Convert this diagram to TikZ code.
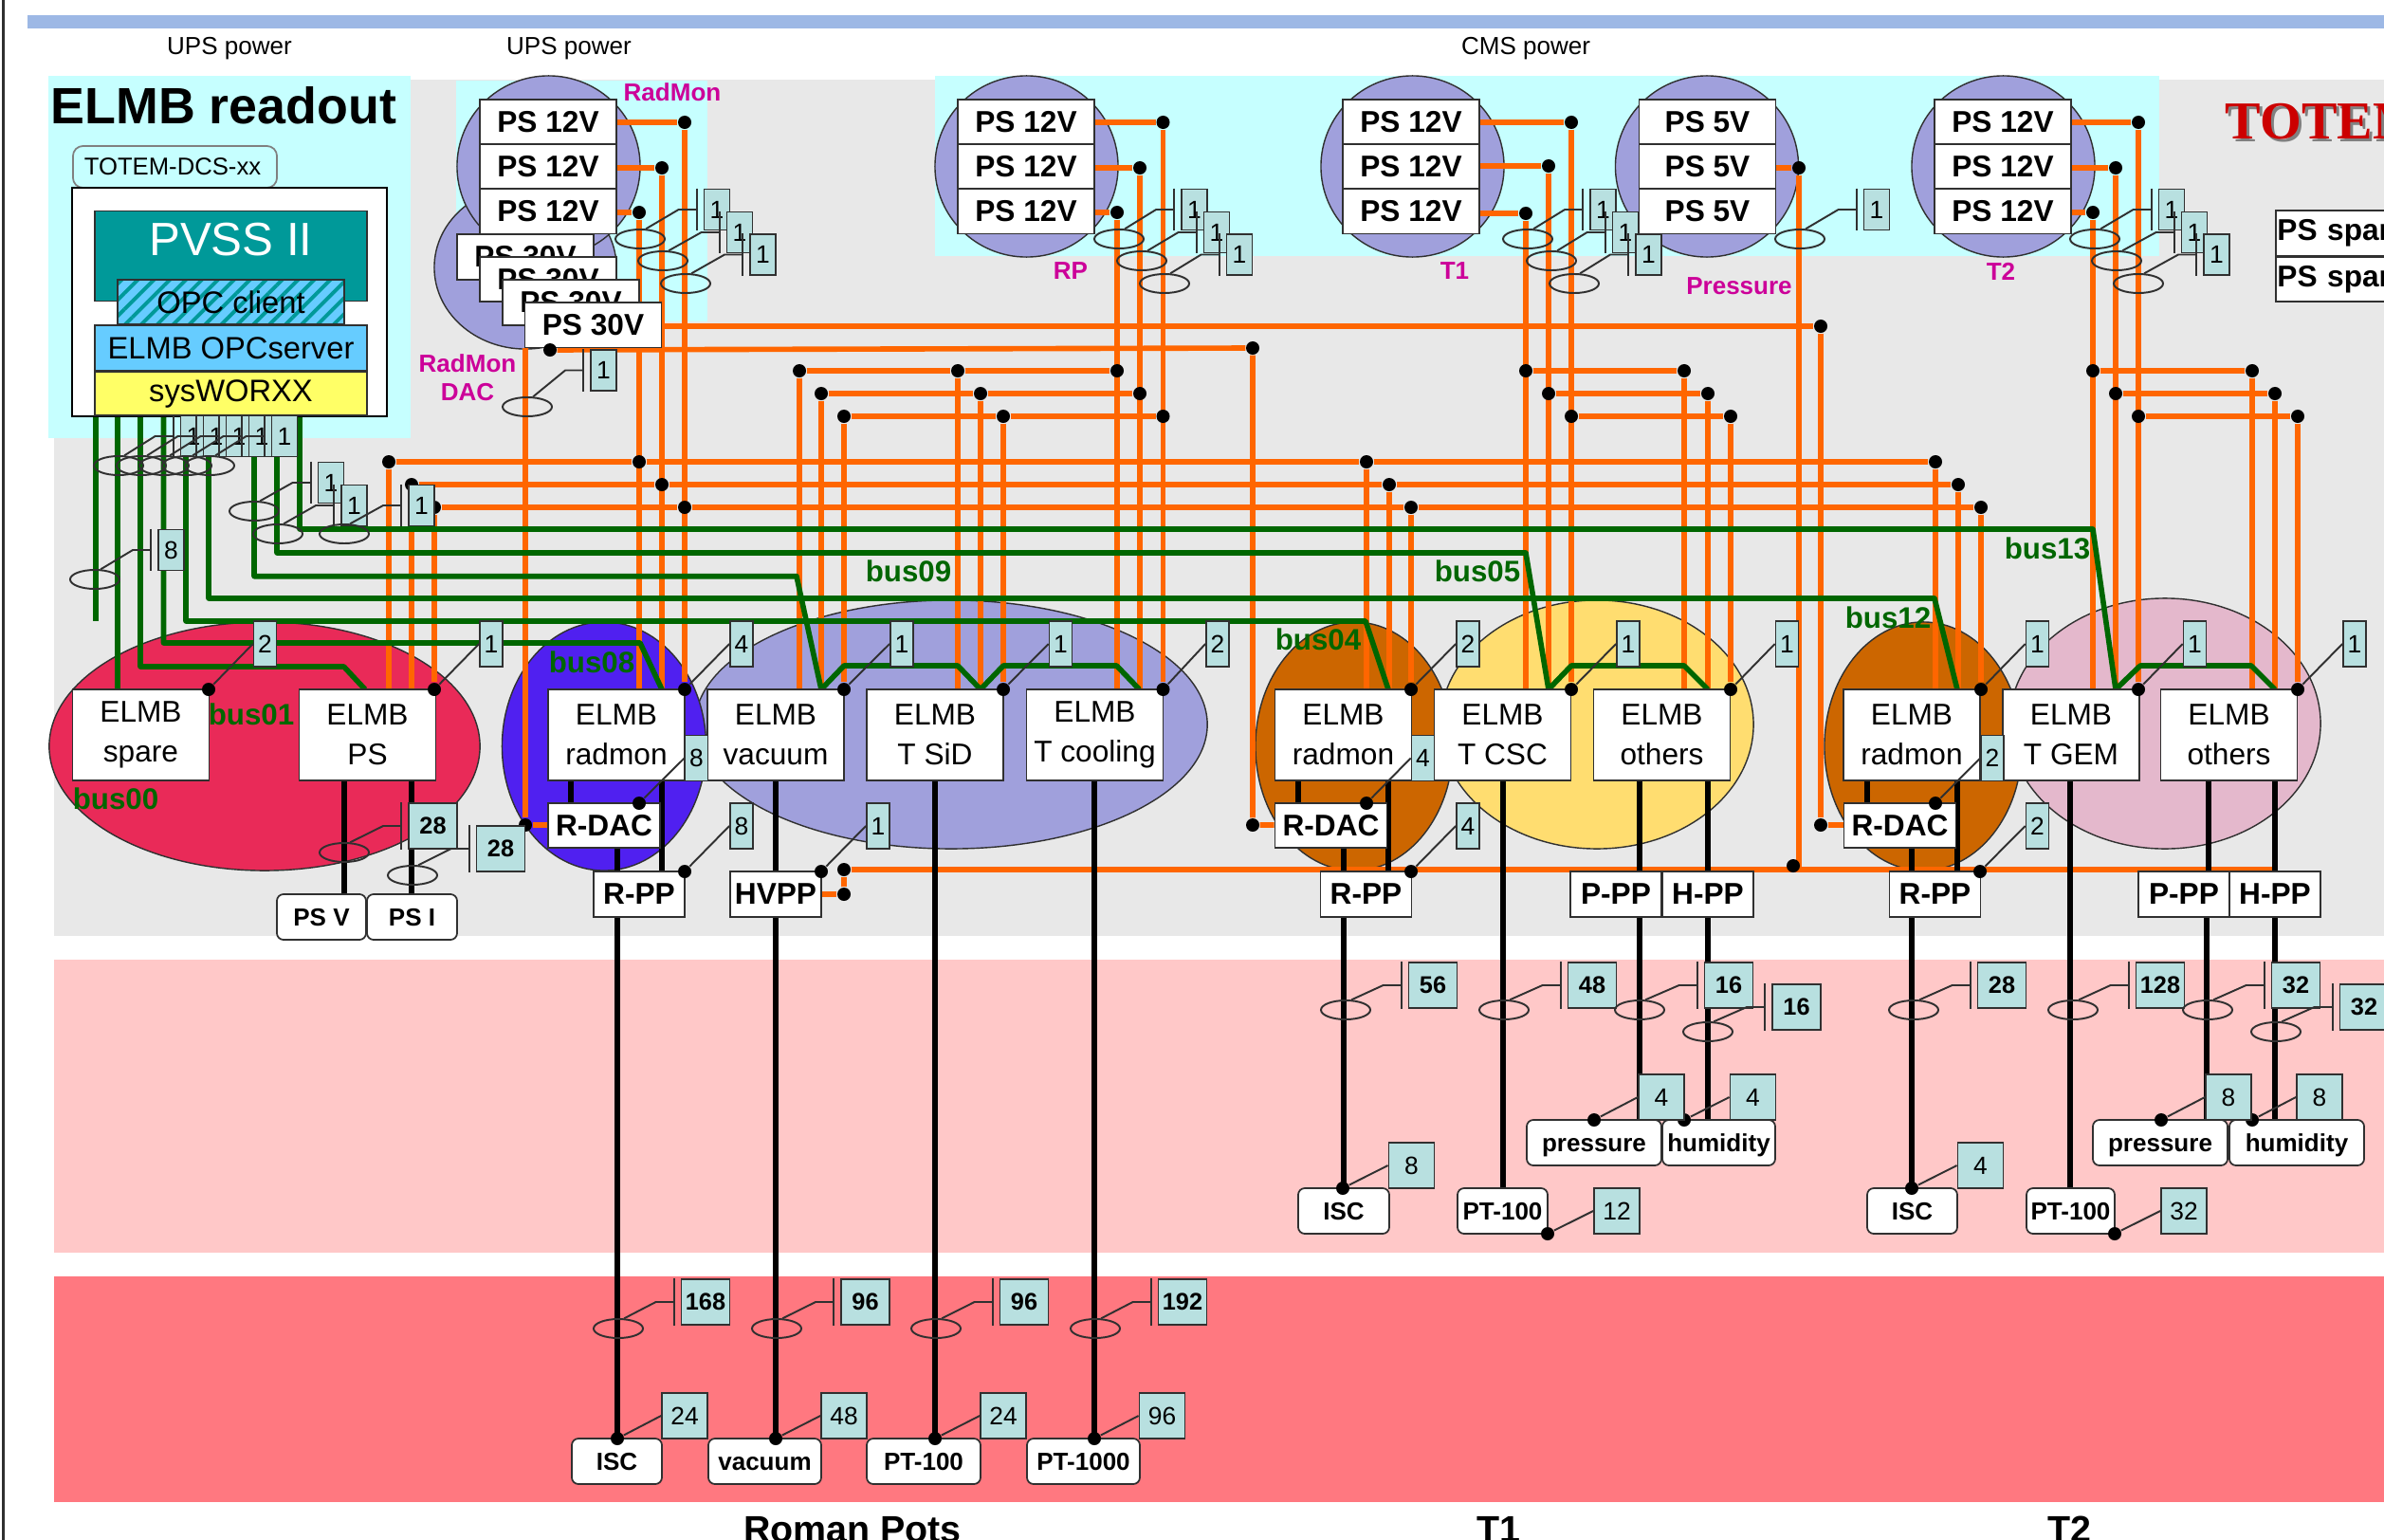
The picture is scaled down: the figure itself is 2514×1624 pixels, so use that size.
\documentclass[tikz,border=0pt]{standalone}
\usepackage{fontspec}
\usepackage{xcolor}
\setmainfont{Liberation Sans}
\newfontfamily\totemfont{Liberation Serif}
\usetikzlibrary{shapes.geometric,patterns.meta}

\definecolor{barblue}{HTML}{9DB8E5}
\definecolor{areagray}{HTML}{E8E8E8}
\definecolor{areapink}{HTML}{FFC8C8}
\definecolor{areared}{HTML}{FF7880}
\definecolor{areacyan}{HTML}{C6FFFF}
\definecolor{ovallilac}{HTML}{A0A0DC}
\definecolor{ovalred}{HTML}{E92A58}
\definecolor{ovalblue}{HTML}{5020F0}
\definecolor{ovalbrown}{HTML}{CC6600}
\definecolor{ovalyellow}{HTML}{FFDD70}
\definecolor{ovalpink}{HTML}{E4B8CC}
\definecolor{pvssteal}{HTML}{009999}
\definecolor{opcblue}{HTML}{66CCFF}
\definecolor{sysyellow}{HTML}{FFFF66}
\definecolor{tagcyan}{HTML}{B8E0E0}
\definecolor{pwrorange}{HTML}{FF6600}
\definecolor{busgreen}{HTML}{006600}
\definecolor{magtext}{HTML}{CC0099}
\definecolor{edgegray}{HTML}{303030}

\pgfdeclarelayer{areas}
\pgfdeclarelayer{wires}
\pgfsetlayers{areas,wires,main}

\tikzset{
  basebox/.style={draw=edgegray,line width=.5pt,fill=white,inner sep=0pt,align=center},
  elmbbox/.style={basebox,minimum width=1.44cm,minimum height=.96cm,font=\fontsize{9}{11.9}\selectfont},
  psbox/.style={basebox,minimum width=1.44cm,minimum height=.475cm,font=\fontsize{9}{11}\selectfont\bfseries},
  ppbox/.style={basebox,minimum width=.96cm,minimum height=.48cm,font=\fontsize{9}{11}\selectfont\bfseries},
  dacbox/.style={basebox,minimum width=1.18cm,minimum height=.47cm,font=\fontsize{9}{11}\selectfont\bfseries},
  tagbox/.style={basebox,rounded corners=2pt,minimum height=.48cm,text height=5.3pt,text depth=0pt,font=\fontsize{7.4}{9}\selectfont\bfseries},
  cnttop/.style={draw=edgegray,line width=.5pt,fill=tagcyan,inner sep=0pt,minimum width=.27cm,minimum height=.43cm,font=\fontsize{7.5}{9}\selectfont},
  cntslim/.style={cnttop,minimum width=.24cm,minimum height=.48cm},
  cntwide/.style={cnttop,minimum width=.48cm,minimum height=.48cm},
  cntbold/.style={cnttop,minimum width=.51cm,minimum height=.48cm,font=\fontsize{7.2}{9}\selectfont\bfseries},
  groupoval/.style={ellipse,draw=edgegray,line width=.4pt,inner sep=0pt},
  busring/.style={ellipse,draw=edgegray,line width=.55pt,inner sep=0pt,minimum width=.52cm,minimum height=.2cm},
  jdot/.style={circle,fill=black,inner sep=0pt,minimum size=.14cm},
  pwrline/.style={draw=pwrorange,line width=1.6pt},
  busline/.style={draw=busgreen,line width=1.6pt,line join=round},
  sigline/.style={draw=black,line width=1.7pt},
  leaderline/.style={draw=edgegray,line width=.55pt},
  maglabel/.style={inner sep=0pt,text=magtext,font=\fontsize{7.4}{9}\selectfont\bfseries},
  buslabel/.style={inner sep=0pt,text=busgreen,font=\fontsize{8.9}{10}\selectfont\bfseries},
  headlabel/.style={inner sep=0pt,font=\fontsize{7.4}{9}\selectfont},
  sitelabel/.style={inner sep=0pt,font=\fontsize{11.2}{13}\selectfont\bfseries}
}

\newcommand{\busnote}[5]{%
  \node[busring] (#1r) at (#2) {};
  \node[#4] (#1) at (#3) {#5};
  \path (#1.west) ++(-7,0) coordinate (#1t);
  \path (#1t) ++(-19,0) coordinate (#1e);
  \draw[leaderline] (#1t |- #1.north) -- (#1t |- #1.south);
  \draw[leaderline] (#1r.60) -- (#1e) -- (#1t);
}
\newcommand{\tagnote}[5]{%
  \node[#4] (#1) at (#3) {#5};
  \draw[leaderline] (#2) -- (#1.west);
}
\newcommand{\vlink}[3]{\draw[sigline] (#3,0 |- #1.south) -- (#3,0 |- #2.north);}

\begin{document}
\begin{tikzpicture}[x=.01cm,y=-.01cm]
\path[use as bounding box,clip] (0,0) rectangle (2514,1624);

\begin{pgfonlayer}{areas}
  \fill[white] (0,0) rectangle (2514,1624);
  \fill[edgegray] (2,0) rectangle (5,1624);
  \fill[barblue] (29,16) rectangle (2514,30);
  \fill[areagray] (57,84) rectangle (2514,987);
  \fill[areapink] (57,1012) rectangle (2514,1321);
  \fill[areared] (57,1346) rectangle (2514,1584);
  \fill[areacyan] (51,80) rectangle (433,462);
  \fill[areacyan] (481,85) rectangle (746,339);
  \fill[areacyan] (986,80) rectangle (2277,270);
  \node[groupoval,fill=ovallilac,minimum width=1.92cm,minimum height=1.72cm] (ovalrd) at (554,282) {};
  \node[groupoval,fill=ovallilac,minimum width=1.93cm,minimum height=1.91cm] (ovalrm) at (578.5,175.5) {};
  \node[groupoval,fill=ovallilac,minimum width=1.93cm,minimum height=1.91cm] (ovalrp) at (1082.5,175.5) {};
  \node[groupoval,fill=ovallilac,minimum width=1.93cm,minimum height=1.91cm] (ovalta) at (1489.5,175.5) {};
  \node[groupoval,fill=ovallilac,minimum width=1.93cm,minimum height=1.91cm] (ovalpr) at (1800,175.5) {};
  \node[groupoval,fill=ovallilac,minimum width=1.93cm,minimum height=1.91cm] (ovaltb) at (2112.5,175.5) {};
  \node[groupoval,fill=ovalred,minimum width=4.54cm,minimum height=2.62cm] (ovalps) at (279,787) {};
  \node[groupoval,fill=ovallilac,minimum width=5.4cm,minimum height=2.62cm] (ovalrpgroup) at (1003,764) {};
  \node[groupoval,fill=ovalyellow,minimum width=3.3cm,minimum height=2.62cm] (ovalt1group) at (1684,764) {};
  \node[groupoval,fill=ovalpink,minimum width=3.28cm,minimum height=2.64cm] (ovalt2group) at (2283,763) {};
  \node[groupoval,fill=ovalblue,minimum width=2.15cm,minimum height=2.62cm] (ovalrada) at (637,787) {};
  \node[groupoval,fill=ovalbrown,minimum width=2.08cm,minimum height=2.62cm] (ovalradb) at (1428,787) {};
  \node[groupoval,fill=ovalbrown,minimum width=2.08cm,minimum height=2.62cm] (ovalradc) at (2028,787) {};
\end{pgfonlayer}

\node[headlabel] (upsa) at (242,51) {UPS power};
\node[headlabel] (upsb) at (600,51) {UPS power};
\node[headlabel] (cmspwr) at (1609,51) {CMS power};
\node[inner sep=0pt,font=\fontsize{15.3}{18}\selectfont\bfseries] (elmbtitle) at (236,111) {ELMB readout};

\node[draw=gray,rounded corners=3pt,line width=.5pt,inner sep=0pt,minimum width=2.15cm,minimum height=.44cm,font=\fontsize{7.3}{9}\selectfont] (dcsname) at (184.5,176) {\hspace{-.05cm}TOTEM-DCS-xx};
\node[draw=black,line width=.5pt,fill=white,inner sep=0pt,minimum width=3.32cm,minimum height=2.41cm] (dcspc) at (242,318.5) {};
\node[draw=edgegray,fill=pvssteal,text=white,inner sep=0pt,minimum width=2.87cm,minimum height=.945cm,text depth=.36cm,font=\fontsize{14}{16}\selectfont] (pvss) at (243.5,270) {PVSS II};
\node[draw=edgegray,inner sep=0pt,minimum width=2.39cm,minimum height=.47cm,font=\fontsize{9.3}{11}\selectfont,preaction={fill=opcblue},pattern={Lines[angle=45,distance=3.4pt,line width=1.1pt]},pattern color=pvssteal] (opcclient) at (243.5,318.5) {};
\node[inner sep=0pt,font=\fontsize{9.3}{11}\selectfont] (opctext) at (243.5,318.5) {OPC client};
\node[draw=edgegray,fill=opcblue,inner sep=0pt,minimum width=2.87cm,minimum height=.48cm,font=\fontsize{9.3}{11}\selectfont] (opcserver) at (243.5,367) {ELMB OPCserver};
\node[draw=edgegray,fill=sysyellow,inner sep=0pt,minimum width=2.87cm,minimum height=.46cm,font=\fontsize{9.3}{11}\selectfont] (sysworxx) at (243.5,415) {sysWORXX};

\node[psbox] (rma) at (578,128.75) {PS 12V};
\node[psbox] (rmb) at (578,175.75) {PS 12V};
\node[psbox] (rmc) at (578,222.75) {PS 12V};
\node[psbox] (rda) at (554,271) {PS 30V};
\node[psbox] (rdb) at (578,294.5) {PS 30V};
\node[psbox] (rdc) at (602,319) {PS 30V};
\node[psbox] (rdd) at (625.5,342.75) {PS 30V};
\node[psbox] (rpa) at (1082,128.75) {PS 12V};
\node[psbox] (rpb) at (1082,175.75) {PS 12V};
\node[psbox] (rpc) at (1082,222.75) {PS 12V};
\node[psbox] (taa) at (1488,128.75) {PS 12V};
\node[psbox] (tab) at (1488,175.75) {PS 12V};
\node[psbox] (tac) at (1488,222.75) {PS 12V};
\node[psbox] (pra) at (1800.5,128.75) {PS 5V};
\node[psbox] (prb) at (1800.5,175.75) {PS 5V};
\node[psbox] (prc) at (1800.5,222.75) {PS 5V};
\node[psbox] (tba) at (2112,128.75) {PS 12V};
\node[psbox] (tbb) at (2112,175.75) {PS 12V};
\node[psbox] (tbc) at (2112,222.75) {PS 12V};
\node[psbox,anchor=west,align=left,text width=1.41cm] (sparea) at (2399,246) {PS spare};
\node[psbox,anchor=west,align=left,text width=1.41cm] (spareb) at (2399,294.5) {PS spare};

\node[maglabel] (labrm) at (709,97) {RadMon};
\node[maglabel] (labrd) at (493,383) {RadMon};
\node[maglabel] (labdac) at (493,414) {DAC};
\node[maglabel] (labrp) at (1129,286) {RP};
\node[maglabel] (labta) at (1534,286) {T1};
\node[maglabel] (labpr) at (1834,302) {Pressure};
\node[maglabel] (labtb) at (2110,286) {T2};
\node[inner sep=0pt,anchor=west,text=gray,font=\totemfont\fontsize{16}{20}\selectfont\bfseries] (totemshadow) at (2349,131) {TOTEM};
\node[inner sep=0pt,anchor=west,text=red!80!black,font=\totemfont\fontsize{16}{20}\selectfont\bfseries] (totemname) at (2346,128) {TOTEM};

\node[elmbbox] (elmbspare) at (148.5,775) {ELMB\\spare};
\node[elmbbox] (elmbps) at (387.5,775) {ELMB\\PS};
\node[elmbbox] (radmona) at (650,775) {ELMB\\radmon};
\node[elmbbox] (vacuum) at (818,775) {ELMB\\vacuum};
\node[elmbbox] (tsid) at (986,775) {ELMB\\T SiD};
\node[elmbbox] (tcooling) at (1154.5,775) {ELMB\\T cooling};
\node[elmbbox] (radmonb) at (1416.5,775) {ELMB\\radmon};
\node[elmbbox] (tcsc) at (1584.5,775) {ELMB\\T CSC};
\node[elmbbox] (othersa) at (1752.5,775) {ELMB\\others};
\node[elmbbox] (radmonc) at (2016,775) {ELMB\\radmon};
\node[elmbbox] (tgem) at (2184,775) {ELMB\\T GEM};
\node[elmbbox] (othersb) at (2350.5,775) {ELMB\\others};

\node[dacbox] (rdaca) at (637,870.5) {R-DAC};
\node[dacbox] (rdacb) at (1403.5,870.5) {R-DAC};
\node[dacbox] (rdacc) at (2003.5,870.5) {R-DAC};
\node[ppbox] (rppa) at (674,943) {R-PP};
\node[ppbox] (hvpp) at (818,943) {HVPP};
\node[ppbox] (rppb) at (1440.5,943) {R-PP};
\node[ppbox] (ppta) at (1704,943) {P-PP};
\node[ppbox] (hpta) at (1801,943) {H-PP};
\node[ppbox] (rppc) at (2040.5,943) {R-PP};
\node[ppbox] (pptb) at (2303,943) {P-PP};
\node[ppbox] (hptb) at (2399,943) {H-PP};

\node[tagbox,minimum width=.94cm] (psv) at (339,967) {PS V};
\node[tagbox,minimum width=.95cm] (psi) at (434.5,967) {PS I};
\node[tagbox,minimum width=.95cm] (iscrp) at (650.5,1541) {ISC};
\node[tagbox,minimum width=1.19cm] (vacrp) at (806.5,1541) {vacuum};
\node[tagbox,minimum width=1.2cm] (ptrp) at (974,1541) {PT-100};
\node[tagbox,minimum width=1.19cm] (ptkrp) at (1142.5,1541) {PT-1000};
\node[tagbox,minimum width=.96cm] (iscta) at (1417,1277) {ISC};
\node[tagbox,minimum width=.95cm] (ptta) at (1584.5,1277) {PT-100};
\node[tagbox,minimum width=1.42cm] (presta) at (1681,1205) {pressure};
\node[tagbox,minimum width=1.19cm] (humta) at (1812.5,1205) {humidity};
\node[tagbox,minimum width=.95cm] (isctb) at (2016.5,1277) {ISC};
\node[tagbox,minimum width=.93cm] (pttb) at (2183.5,1277) {PT-100};
\node[tagbox,minimum width=1.42cm] (prestb) at (2278,1205) {pressure};
\node[tagbox,minimum width=1.42cm] (humtb) at (2422,1205) {humidity};

\node[jdot] (rmdota) at (722,129) {};
\node[jdot] (rmdotb) at (698,177) {};
\node[jdot] (rmdotc) at (674,224) {};
\node[jdot] (rpdota) at (1226.5,129) {};
\node[jdot] (rpdotb) at (1202,177) {};
\node[jdot] (rpdotc) at (1178,224) {};
\node[jdot] (tadota) at (1657,129) {};
\node[jdot] (tadotb) at (1633,175) {};
\node[jdot] (tadotc) at (1609,225) {};
\node[jdot] (prdot) at (1897,177) {};
\node[jdot] (tbdota) at (2255,129) {};
\node[jdot] (tbdotb) at (2231,177) {};
\node[jdot] (tbdotc) at (2207,224) {};
\node[jdot] (ubusa) at (410,487) {};
\node[jdot] (ubusb) at (434,511) {};
\node[jdot] (ubusc) at (458,535) {};
\node[jdot] (ubusd) at (674,487) {};
\node[jdot] (ubuse) at (698,511) {};
\node[jdot] (ubusf) at (722,535) {};
\node[jdot] (ubusg) at (1441,487) {};
\node[jdot] (ubush) at (1465,511) {};
\node[jdot] (ubusi) at (1488,535) {};
\node[jdot] (ubusj) at (2041,487) {};
\node[jdot] (ubusk) at (2065,511) {};
\node[jdot] (ubusl) at (2089,535) {};
\node[jdot] (vbusa) at (843,391) {};
\node[jdot] (vbusb) at (866,415) {};
\node[jdot] (vbusc) at (890,439) {};
\node[jdot] (vbusd) at (1010,391) {};
\node[jdot] (vbuse) at (1034,415) {};
\node[jdot] (vbusf) at (1058,439) {};
\node[jdot] (vbusg) at (1178,391) {};
\node[jdot] (vbush) at (1202,415) {};
\node[jdot] (vbusi) at (1226.5,439) {};
\node[jdot] (tbusa) at (1609,391) {};
\node[jdot] (tbusb) at (1633,415) {};
\node[jdot] (tbusc) at (1657,439) {};
\node[jdot] (tbusd) at (1776,391) {};
\node[jdot] (tbuse) at (1801,415) {};
\node[jdot] (tbusf) at (1825,439) {};
\node[jdot] (gbusa) at (2207,391) {};
\node[jdot] (gbusb) at (2231,415) {};
\node[jdot] (gbusc) at (2255,439) {};
\node[jdot] (gbusd) at (2375,391) {};
\node[jdot] (gbuse) at (2399,415) {};
\node[jdot] (gbusf) at (2423,439) {};
\node[jdot] (dacsrc) at (580,369) {};
\node[jdot] (dacmid) at (1321,367) {};
\node[jdot] (dacend) at (1920,344) {};
\node[jdot] (dacfa) at (554,870) {};
\node[jdot] (dacfb) at (1321,870) {};
\node[jdot] (dacfc) at (1920,870) {};
\node[jdot] (hvtop) at (890,917) {};
\node[jdot] (hvlow) at (890,943) {};
\node[jdot] (prtap) at (1891,913) {};
\node[jdot] (sparedot) at (220,727) {};
\node[jdot] (psdot) at (458,727) {};
\node[jdot] (radadot) at (722,727) {};
\node[jdot] (vacdot) at (890,727) {};
\node[jdot] (siddot) at (1058,727) {};
\node[jdot] (cooldot) at (1226.5,727) {};
\node[jdot] (radbdot) at (1488,727) {};
\node[jdot] (cscdot) at (1657,727) {};
\node[jdot] (othadot) at (1825,727) {};
\node[jdot] (radcdot) at (2089,727) {};
\node[jdot] (gemdot) at (2255,727) {};
\node[jdot] (othbdot) at (2423,727) {};
\node[jdot] (dacadot) at (674,847) {};
\node[jdot] (dacbdot) at (1441,847) {};
\node[jdot] (daccdot) at (2041,847) {};
\node[jdot] (ppadot) at (722,919) {};
\node[jdot] (hvdot) at (866,919) {};
\node[jdot] (ppbdot) at (1488,919) {};
\node[jdot] (ppcdot) at (2088,919) {};
\node[jdot] (iscrpdot) at (651,1517) {};
\node[jdot] (vacrpdot) at (818,1517) {};
\node[jdot] (ptrpdot) at (986,1517) {};
\node[jdot] (ptkrpdot) at (1154,1517) {};
\node[jdot] (isctadot) at (1416,1253) {};
\node[jdot] (pttadot) at (1632,1301) {};
\node[jdot] (prestadot) at (1681,1181) {};
\node[jdot] (humtadot) at (1776,1181) {};
\node[jdot] (isctbdot) at (2016,1253) {};
\node[jdot] (pttbdot) at (2230,1301) {};
\node[jdot] (prestbdot) at (2279,1181) {};
\node[jdot] (humtbdot) at (2375,1181) {};

\begin{pgfonlayer}{wires}
  \draw[pwrline] (rmdota -| rma.east) -- (rmdota);
  \draw[pwrline] (rmdotb -| rmb.east) -- (rmdotb);
  \draw[pwrline] (rmdotc -| rmc.east) -- (rmdotc);
  \draw[pwrline] (rpdota -| rpa.east) -- (rpdota);
  \draw[pwrline] (rpdotb -| rpb.east) -- (rpdotb);
  \draw[pwrline] (rpdotc -| rpc.east) -- (rpdotc);
  \draw[pwrline] (tadota -| taa.east) -- (tadota);
  \draw[pwrline] (tadotb -| tab.east) -- (tadotb);
  \draw[pwrline] (tadotc -| tac.east) -- (tadotc);
  \draw[pwrline] (prdot -| prb.east) -- (prdot);
  \draw[pwrline] (tbdota -| tba.east) -- (tbdota);
  \draw[pwrline] (tbdotb -| tbb.east) -- (tbdotb);
  \draw[pwrline] (tbdotc -| tbc.east) -- (tbdotc);

  \draw[pwrline] (rmdota) -- (radadot);
  \draw[pwrline] (rmdotb) -- (ubuse |- elmbps.north);
  \draw[pwrline] (rmdotc) -- (ubusd |- elmbps.north);
  \draw[pwrline] (rpdota) -- (cooldot);
  \draw[pwrline] (rpdotb) -- (vbush |- tcooling.north);
  \draw[pwrline] (rpdotc) -- (vbusg |- tcooling.north);
  \draw[pwrline] (tadota) -- (cscdot);
  \draw[pwrline] (tadotb) -- (tbusb |- tcsc.north);
  \draw[pwrline] (tadotc) -- (tbusa |- tcsc.north);
  \draw[pwrline] (tbdota) -- (gemdot);
  \draw[pwrline] (tbdotb) -- (gbusb |- tgem.north);
  \draw[pwrline] (tbdotc) -- (gbusa |- tgem.north);

  \draw[pwrline] (ubusa) -- (ubusd) -- (ubusg) -- (ubusj);
  \draw[pwrline] (ubusb) -- (ubuse) -- (ubush) -- (ubusk);
  \draw[pwrline] (ubusc) -- (ubusf) -- (ubusi) -- (ubusl);
  \draw[pwrline] (vbusa) -- (vbusd) -- (vbusg);
  \draw[pwrline] (vbusb) -- (vbuse) -- (vbush);
  \draw[pwrline] (vbusc) -- (vbusf) -- (vbusi);
  \draw[pwrline] (tbusa) -- (tbusd);
  \draw[pwrline] (tbusb) -- (tbuse);
  \draw[pwrline] (tbusc) -- (tbusf);
  \draw[pwrline] (gbusa) -- (gbusd);
  \draw[pwrline] (gbusb) -- (gbuse);
  \draw[pwrline] (gbusc) -- (gbusf);

  \draw[pwrline] (ubusa) -- (ubusa |- elmbps.north);
  \draw[pwrline] (ubusb) -- (ubusb |- elmbps.north);
  \draw[pwrline] (ubusc) -- (psdot);
  \draw[pwrline] (ubusg) -- (ubusg |- radmonb.north);
  \draw[pwrline] (ubush) -- (ubush |- radmonb.north);
  \draw[pwrline] (ubusi) -- (radbdot);
  \draw[pwrline] (ubusj) -- (ubusj |- radmonc.north);
  \draw[pwrline] (ubusk) -- (ubusk |- radmonc.north);
  \draw[pwrline] (ubusl) -- (radcdot);
  \draw[pwrline] (vbusa) -- (vbusa |- vacuum.north);
  \draw[pwrline] (vbusb) -- (vbusb |- vacuum.north);
  \draw[pwrline] (vbusc) -- (vacdot);
  \draw[pwrline] (vbusd) -- (vbusd |- tsid.north);
  \draw[pwrline] (vbuse) -- (vbuse |- tsid.north);
  \draw[pwrline] (vbusf) -- (siddot);
  \draw[pwrline] (tbusd) -- (tbusd |- othersa.north);
  \draw[pwrline] (tbuse) -- (tbuse |- othersa.north);
  \draw[pwrline] (tbusf) -- (othadot);
  \draw[pwrline] (gbusd) -- (gbusd |- othersb.north);
  \draw[pwrline] (gbuse) -- (gbuse |- othersb.north);
  \draw[pwrline] (gbusf) -- (othbdot);

  \draw[pwrline] (dacend -| rdd.east) -- (dacend) -- (dacfc) -- (dacfc -| rdacc.west);
  \draw[pwrline] (dacsrc) -- (dacmid) -- (dacfb) -- (dacfb -| rdacb.west);
  \draw[pwrline] (dacfa |- rdd.south) -- (dacfa) -- (dacfa -| rdaca.west);
  \draw[pwrline] (prdot) -- (prdot |- hvtop);
  \draw[pwrline] (hvpp.east) -- (hvlow) -- (hvtop) -- (hvtop -| hptb.north);

  \coordinate (gstarta) at (100.7,438);
  \coordinate (gstartb) at (124,438);
  \coordinate (gstartc) at (148,438);
  \coordinate (gstartd) at (172.5,438);
  \coordinate (gstarte) at (196,438);
  \coordinate (gstartf) at (220,438);
  \coordinate (gstartg) at (268,438);
  \coordinate (gstarth) at (292,438);
  \coordinate (gstarti) at (316,438);
  \coordinate (gfree) at (100.7,655);
  \coordinate (bzeroone) at (385,727);
  \coordinate (bzeroeight) at (698,727);
  \coordinate (bzerofour) at (1464,727);
  \coordinate (btwelve) at (2064,727);
  \coordinate (bnineend) at (1201.5,727);
  \coordinate (bfiveend) at (1801,727);
  \coordinate (bthirteenend) at (2399,727);
  \draw[busline] (gstarta) -- (gfree);
  \draw[busline] (gstartb) -- (gstartb |- elmbspare.north);
  \draw[busline] (gstartc) |- (362.6,703) -- (bzeroone);
  \draw[busline] (gstartd) |- (675,678) -- (bzeroeight);
  \draw[busline] (gstarte) |- (1440,655) -- (bzerofour);
  \draw[busline] (gstartf) |- (2040,631) -- (btwelve);
  \draw[busline] (gstartg) |- (840,607.7) -- (866,727) -- (890,702) -- (1010,702) -- (1034,727) -- (1058,702) -- (1177.5,702) -- (bnineend);
  \draw[busline] (gstarth) |- (1609,583) -- (1633,727) -- (1657,702) -- (1776,702) -- (bfiveend);
  \draw[busline] (gstarti) |- (2207,558) -- (2231,727) -- (2257,702) -- (2374,702) -- (bthirteenend);

  \vlink{elmbps}{psv}{362.6}
  \vlink{elmbps}{psi}{434}
  \vlink{radmona}{rdaca}{602}
  \vlink{rdaca}{rppa}{651}
  \vlink{radmona}{rppa}{698}
  \vlink{rppa}{iscrp}{651}
  \vlink{vacuum}{hvpp}{818}
  \vlink{hvpp}{vacrp}{818}
  \vlink{tsid}{ptrp}{986}
  \vlink{tcooling}{ptkrp}{1154}
  \vlink{radmonb}{rdacb}{1369}
  \vlink{rdacb}{rppb}{1417}
  \vlink{radmonb}{rppb}{1464}
  \vlink{rppb}{iscta}{1416.5}
  \vlink{tcsc}{ptta}{1584.5}
  \vlink{othersa}{ppta}{1729}
  \vlink{othersa}{hpta}{1801}
  \vlink{ppta}{presta}{1729}
  \vlink{hpta}{humta}{1801}
  \vlink{radmonc}{rdacc}{1969}
  \vlink{rdacc}{rppc}{2016}
  \vlink{radmonc}{rppc}{2064}
  \vlink{rppc}{isctb}{2016}
  \vlink{tgem}{pttb}{2183}
  \vlink{othersb}{pptb}{2329}
  \vlink{othersb}{hptb}{2399}
  \vlink{pptb}{prestb}{2327}
  \vlink{hptb}{humtb}{2399}
\end{pgfonlayer}

\node[buslabel] (buszero) at (122,842) {bus00};
\node[buslabel] (busone) at (265,753) {bus01};
\node[buslabel] (buseight) at (624,698) {bus08};
\node[buslabel] (busnine) at (958,602) {bus09};
\node[buslabel] (busfive) at (1558,602) {bus05};
\node[buslabel] (busfour) at (1390,674) {bus04};
\node[buslabel] (bustwelve) at (1991,651) {bus12};
\node[buslabel] (busthirteen) at (2159,578) {bus13};

\busnote{nrma}{675,252}{756,221}{cnttop}{1}
\busnote{nrmb}{699,275}{780,245}{cnttop}{1}
\busnote{nrmc}{723,299}{804.5,268.5}{cnttop}{1}
\busnote{nrd}{556,429}{636.5,390.5}{cnttop}{1}
\busnote{nrpa}{1180,252}{1259.5,221}{cnttop}{1}
\busnote{nrpb}{1204,275}{1283,245}{cnttop}{1}
\busnote{nrpc}{1228,299}{1307,268.5}{cnttop}{1}
\busnote{ntaa}{1611,252}{1690.5,221}{cnttop}{1}
\busnote{ntab}{1636,275}{1714,245}{cnttop}{1}
\busnote{ntac}{1660,299}{1738.5,268.5}{cnttop}{1}
\busnote{npr}{1898,252}{1979,221}{cnttop}{1}
\busnote{ntba}{2209,252}{2290,221}{cnttop}{1}
\busnote{ntbb}{2232,275}{2314,245}{cnttop}{1}
\busnote{ntbc}{2255,299}{2337.5,268.5}{cnttop}{1}
\busnote{nsysa}{125,491}{204,460}{cnttop}{1}
\busnote{nsysb}{149,491}{228,460}{cnttop}{1}
\busnote{nsysc}{173,491}{252,460}{cnttop}{1}
\busnote{nsysd}{197,491}{276,460}{cnttop}{1}
\busnote{nsyse}{221,491}{300,460}{cnttop}{1}
\busnote{nlowa}{268,539}{349,509}{cnttop}{1}
\busnote{nlowb}{293,563}{373.5,533}{cnttop}{1}
\busnote{nlowc}{363,563}{444.5,533}{cnttop}{1}
\busnote{neight}{100,611}{180.5,580}{cnttop}{8}
\busnote{npsv}{363,899}{456.5,871}{cntbold}{28}
\busnote{npsi}{435,923}{528,895}{cntbold}{28}
\busnote{nisc}{652,1401}{744,1373}{cntbold}{168}
\busnote{nvac}{819,1401}{912.5,1373}{cntbold}{96}
\busnote{nsid}{987,1401}{1080,1373}{cntbold}{96}
\busnote{ncool}{1155,1401}{1247,1373}{cntbold}{192}
\busnote{nrpta}{1419,1065}{1511,1039}{cntbold}{56}
\busnote{ncsc}{1586,1065}{1679,1039}{cntbold}{48}
\busnote{npta}{1729,1065}{1823,1039}{cntbold}{16}
\busnote{nhta}{1801,1088}{1894.5,1062}{cntbold}{16}
\busnote{nrptb}{2018,1065}{2111,1039}{cntbold}{28}
\busnote{ngem}{2186,1065}{2278,1039}{cntbold}{128}
\busnote{nptb}{2328,1065}{2421,1039}{cntbold}{32}
\busnote{nhtb}{2400,1088}{2493,1062}{cntbold}{32}

\tagnote{tspare}{sparedot}{279.5,679}{cntslim}{2}
\tagnote{tps}{psdot}{518,679}{cntslim}{1}
\tagnote{trada}{radadot}{782,679}{cntslim}{4}
\tagnote{tvac}{vacdot}{951,679}{cntslim}{1}
\tagnote{tsidn}{siddot}{1118.5,679}{cntslim}{1}
\tagnote{tcool}{cooldot}{1284,679}{cntslim}{2}
\tagnote{tradb}{radbdot}{1548,679}{cntslim}{2}
\tagnote{tcscn}{cscdot}{1717,679}{cntslim}{1}
\tagnote{totha}{othadot}{1884.5,679}{cntslim}{1}
\tagnote{tradc}{radcdot}{2148.5,679}{cntslim}{1}
\tagnote{tgemn}{gemdot}{2314.5,679}{cntslim}{1}
\tagnote{tothb}{othbdot}{2483,679}{cntslim}{1}
\tagnote{tdaca}{dacadot}{734.5,799.5}{cntslim}{8}
\tagnote{tdacb}{dacbdot}{1500.5,799.5}{cntslim}{4}
\tagnote{tdacc}{daccdot}{2101,799.5}{cntslim}{2}
\tagnote{tppa}{ppadot}{782,871}{cntslim}{8}
\tagnote{thv}{hvdot}{926,871}{cntslim}{1}
\tagnote{tppb}{ppbdot}{1548,871}{cntslim}{4}
\tagnote{tppc}{ppcdot}{2148.5,871}{cntslim}{2}
\tagnote{tiscrp}{iscrpdot}{722,1493}{cntwide}{24}
\tagnote{tvacrp}{vacrpdot}{890,1493}{cntwide}{48}
\tagnote{tptrp}{ptrpdot}{1058,1493}{cntwide}{24}
\tagnote{tptkrp}{ptkrpdot}{1225.5,1493}{cntwide}{96}
\tagnote{tiscta}{isctadot}{1488.5,1229}{cntwide}{8}
\tagnote{tptta}{pttadot}{1705,1277}{cntwide}{12}
\tagnote{tpresta}{prestadot}{1752,1157}{cntwide}{4}
\tagnote{thumta}{humtadot}{1848.5,1157}{cntwide}{4}
\tagnote{tisctb}{isctbdot}{2088.5,1229}{cntwide}{4}
\tagnote{tpttb}{pttbdot}{2303,1277}{cntwide}{32}
\tagnote{tprestb}{prestbdot}{2350,1157}{cntwide}{8}
\tagnote{thumtb}{humtbdot}{2446,1157}{cntwide}{8}

\node[sitelabel] (siterp) at (899,1613) {Roman Pots};
\node[sitelabel] (siteta) at (1580,1613) {T1};
\node[sitelabel] (sitetb) at (2182,1613) {T2};
\end{tikzpicture}
\end{document}
